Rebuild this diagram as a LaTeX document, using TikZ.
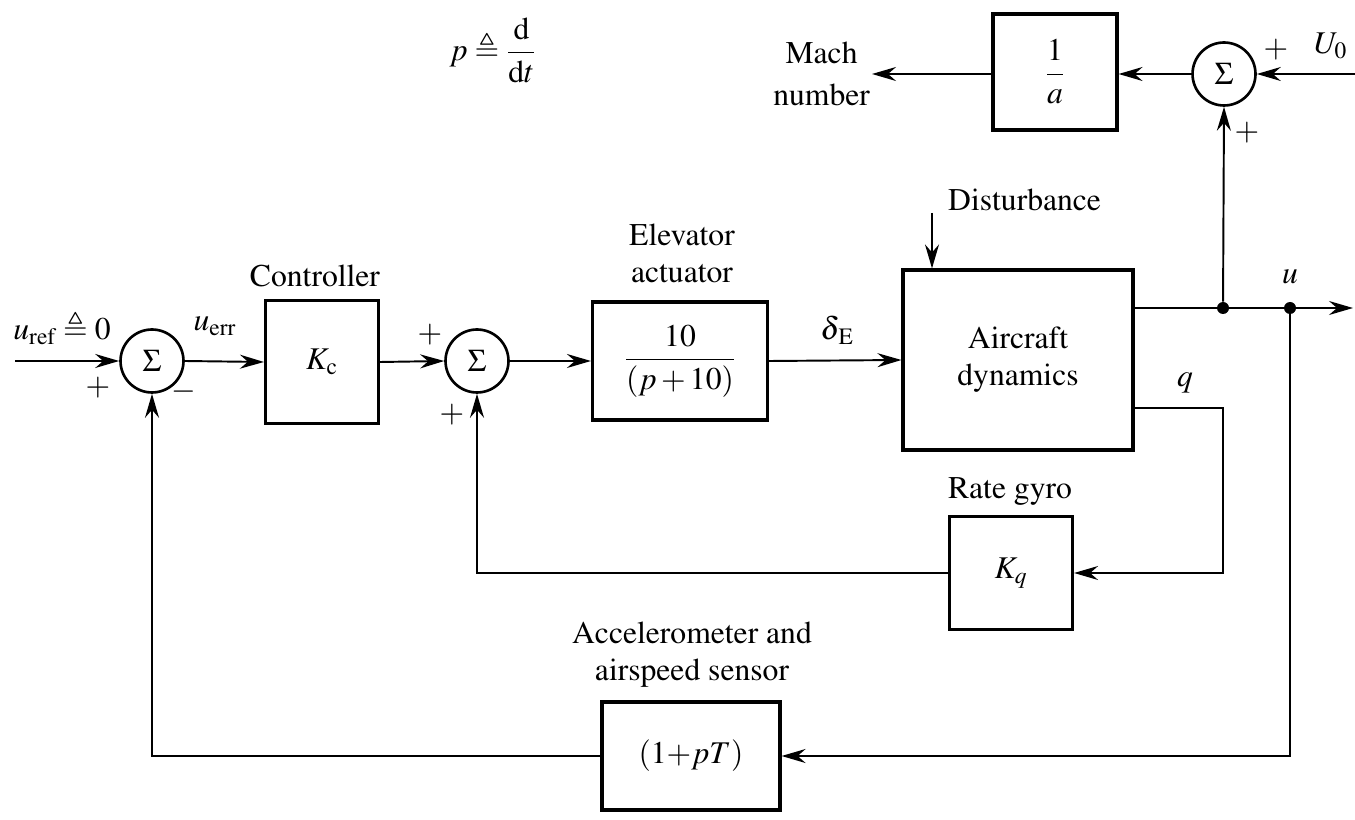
\documentclass[tikz,border=0pt]{standalone}
\usepackage{amsmath,amssymb}
\usepackage[T1]{fontenc}
\usepackage{mathptmx}
\usepackage{xcolor}
\usepackage{tikz}
\usetikzlibrary{positioning,arrows.meta}

\begin{document}
\begin{tikzpicture}[x=0.02cm, y=-0.02cm, font=\fontsize{18}{21}\selectfont,
		blk/.style={draw, line width=1.8pt, inner sep=0pt},
		sumnode/.style={draw, circle, line width=1.5pt, minimum size=1.26cm, inner sep=0pt},
		sig/.style={line width=1.1pt, -{Stealth[length=0.48cm, width=0.28cm, inset=0.16cm]}},
		dot/.style={circle, fill, inner sep=0pt, minimum size=0.24cm}]
				\useasboundingbox (0,0) rectangle (1355,820);
				
				% blocks
				\node[sumnode] (s1) at (152,361) {$\Sigma$};
				\node[blk, minimum width=2.26cm, minimum height=2.46cm] (ctrl) at (322,362) {$K_{\mathrm{c}}$};
				\node[sumnode] (s2) at (477,361) {$\Sigma$};
				\node[blk, minimum width=3.5cm, minimum height=2.36cm] (act) at (680,361) {$\dfrac{10}{(p+10)}$};
				\node[blk, minimum width=4.6cm, minimum height=3.6cm, align=center] (ac) at (1018,360) {Aircraft\\dynamics};
				\node[blk, minimum width=2.46cm, minimum height=2.26cm] (gyro) at (1011,573) {$K_q$};
				\node[blk, minimum width=3.56cm, minimum height=2.16cm] (sens) at (691,756) {$(1{+}pT)$};
				\node[blk, minimum width=2.48cm, minimum height=2.32cm] (inv) at (1055,72) {$\dfrac{1}{a}$};
				\node[sumnode] (s3) at (1224,74) {$\Sigma$};
				
				% points
				\coordinate (in) at (15,361);
				\coordinate (u0) at (1355,74);
				\coordinate (out) at (1353,308);
				\coordinate (qa) at (1223,408);
				\coordinate (dist) at (932,213);
				\node[dot] (b1) at (1223,308) {};
				\node[dot] (b2) at (1290,308) {};
				\node[align=center, inner sep=1pt, anchor=east] (mach) at (872,74) {Mach\\[3pt]number};
				
				% signals
				\draw[sig] (in) -- (s1.west);
				\draw[sig] (s1.east) -- (ctrl.west);
				\draw[sig] (ctrl.east) -- (s2.west);
				\draw[sig] (s2.east) -- (act.west);
				\draw[sig] (act.east) -- (ac.west);
				\draw[sig] (dist) -- (dist |- ac.north);
				\draw[line width=1.1pt] (ac.east |- b1) -- (b1) -- (b2);
				\draw[sig] (b2) -- (out);
				\draw[sig] (ac.east |- qa) -- (qa) |- (gyro.east);
				\draw[sig] (gyro.west) -| (s2.south);
				\draw[sig] (b2) |- (sens.east);
				\draw[sig] (sens.west) -| (s1.south);
				\draw[sig] (b1) -- (s3.south);
				\draw[sig] (u0) -- (s3.east);
				\draw[sig] (s3.west) -- (s3.west -| inv.east);
				\draw[sig] (inv.west |- mach.east) -- (mach.east);
				
				% labels
				\node (pdef) at (493,50) {$p\triangleq\dfrac{\mathrm{d}}{\mathrm{d}t}$};
				\node[anchor=west] (u0lbl) at (1308,46) {$U_0$};
				\node (p3a) at (1276,50) {$+$};
				\node (p3b) at (1247,133) {$+$};
				\node (p1a) at (98,388) {$+$};
				\node (m1) at (184,392) {$-$};
				\node (p2a) at (430,335) {$+$};
				\node (p2b) at (452,415) {$+$};
				\node (uref) at (62,328) {$u_{\mathrm{ref}}\triangleq0$};
				\node (uerr) at (215,326) {$u_{\mathrm{err}}$};
				\node[inner sep=1pt] (de) at (837,330) {$\delta_{\,\mathrm{E}}$};
				\node (ulbl) at (1290,277) {$u$};
				\node (qlbl) at (1185,383) {$q$};
				\node (ctrllbl) at (315,276) {Controller};
				\node[align=center] (actlbl) at (682,253) {Elevator\\actuator};
				\node[anchor=west] (distlbl) at (942,200) {Disturbance};
				\node (gyrolbl) at (1010,492) {Rate gyro};
				\node[align=center] (senslbl) at (692,655) {Accelerometer and\\airspeed sensor};
			\end{tikzpicture}
\end{document}
